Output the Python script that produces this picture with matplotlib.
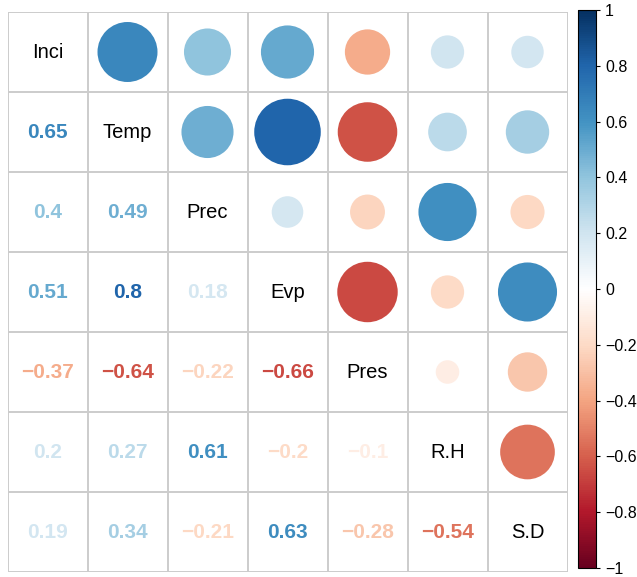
import numpy as np
import matplotlib
matplotlib.use("Agg")
import matplotlib.pyplot as plt
from matplotlib.colors import LinearSegmentedColormap, Normalize
from matplotlib.patches import Circle
import matplotlib.colorbar as mcolorbar

plt.rcParams['font.family'] = ['Liberation Sans', 'DejaVu Sans']

# variables
labels = ['Inci', 'Temp', 'Prec', 'Evp', 'Pres', 'R.H', 'S.D']

# lower-triangle correlations, row by row
corr_rows = [
    [],
    [0.65],
    [0.4, 0.49],
    [0.51, 0.8, 0.18],
    [-0.37, -0.64, -0.22, -0.66],
    [0.2, 0.27, 0.61, -0.2, -0.1],
    [0.19, 0.34, -0.21, 0.63, -0.28, -0.54],
]

n = len(labels)
corr = np.eye(n)
for i, row in enumerate(corr_rows):
    for j, v in enumerate(row):
        corr[i, j] = v
        corr[j, i] = v

col2 = ["#67001F", "#B2182B", "#D6604D", "#F4A582", "#FDDBC7", "#FFFFFF",
        "#D1E5F0", "#92C5DE", "#4393C3", "#2166AC", "#053061"]
cmap = LinearSegmentedColormap.from_list('corr', col2)
norm = Normalize(-1, 1)

W, H = 637, 577
fig = plt.figure(figsize=(W / 100, H / 100), dpi=100)
ax = fig.add_axes([7.5 / W, 5 / H, 560 / W, 560 / H])
ax.set_xlim(0, n)
ax.set_ylim(n, 0)
ax.axis('off')

# grid
for k in range(n + 1):
    ax.plot([k, k], [0, n], color='#cccccc', lw=1.4, zorder=1)
    ax.plot([0, n], [k, k], color='#cccccc', lw=1.4, zorder=1)

def fmt(v):
    s = f"{v:.2f}".rstrip('0').rstrip('.')
    return s.replace('-', '\u2212')

for i in range(n):
    for j in range(n):
        v = corr[i, j]
        cx, cy = j + 0.5, i + 0.5
        if i == j:
            ax.text(cx, cy, labels[i], ha='center', va='center', fontsize=14.5, color='black')
        elif j > i:
            r = 0.465 * np.sqrt(abs(v))
            ax.add_patch(Circle((cx, cy), r, facecolor=cmap(norm(v)), edgecolor='none', zorder=2))
        else:
            ax.text(cx, cy, fmt(v), ha='center', va='center', fontsize=15,
                    fontweight='bold', color=cmap(norm(v)))

# colorbar
cax = fig.add_axes([578 / W, 9 / H, 18 / W, 558 / H])
cb = mcolorbar.ColorbarBase(cax, cmap=cmap, norm=norm, orientation='vertical')
ticks = [-1, -0.8, -0.6, -0.4, -0.2, 0, 0.2, 0.4, 0.6, 0.8, 1]
cb.set_ticks(ticks)
cb.set_ticklabels([fmt(t) for t in ticks])
cb.outline.set_linewidth(0.8)
cax.tick_params(labelsize=11.5, length=3, width=0.8)

fig.savefig('out.png', dpi=100)
